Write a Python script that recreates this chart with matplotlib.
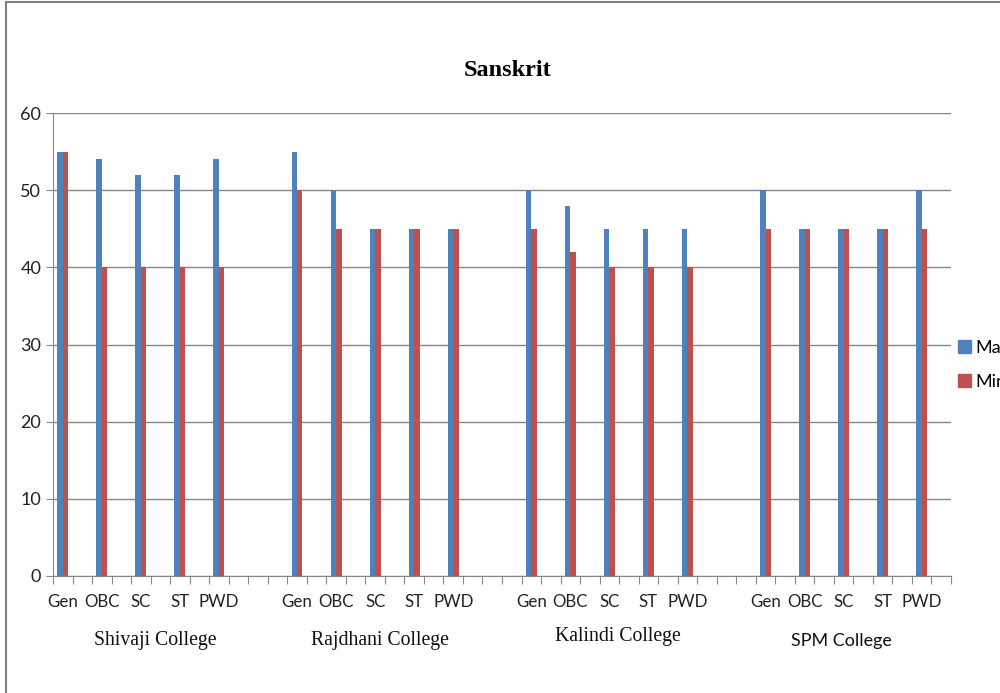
import numpy as np
import matplotlib
matplotlib.use("Agg")
import matplotlib.pyplot as plt
from matplotlib.patches import Patch
from matplotlib.lines import Line2D


# ==========================================================
# Data

colleges = ["Shivaji College", "Rajdhani College", "Kalindi College", "SPM College"]
categories = ["Gen", "OBC", "SC", "ST", "PWD"]

max_marks = [
    [55, 54, 52, 52, 54],
    [55, 50, 45, 45, 45],
    [50, 48, 45, 45, 45],
    [50, 45, 45, 45, 50],
]
min_marks = [
    [55, 40, 40, 40, 40],
    [50, 45, 45, 45, 45],
    [45, 42, 40, 40, 40],
    [45, 45, 45, 45, 45],
]

series_names = ["Max", "Min"]
blue = "#4F81BD"
red = "#C0504D"
grid_gray = "#868686"

# ==========================================================
# Layout: each category sits in its own slot, with an empty slot
# after it and two more blank slots between colleges (Excel style)

n_slots = 46
centers = []
labels = []
for i in range(len(colleges)):
    for j in range(len(categories)):
        centers.append(12 * i + 2 * j + 0.5)
        labels.append(categories[j])
centers = np.array(centers)
max_flat = np.array(max_marks).ravel()
min_flat = np.array(min_marks).ravel()

fig = plt.figure(figsize=(10, 6.93), dpi=100)
ax = fig.add_axes([0.053, 1 - 576 / 693, 0.898, (576 - 113) / 693])

bw = 0.28
ax.bar(centers - bw / 2, max_flat, width=bw, color=blue, zorder=3)
ax.bar(centers + bw / 2, min_flat, width=bw, color=red, zorder=3)

ax.set_xlim(0, n_slots)
ax.set_ylim(0, 60)
ax.set_yticks(range(0, 61, 10))
ax.yaxis.grid(True, color=grid_gray, linewidth=1, zorder=0)

for side in ["top", "right"]:
    ax.spines[side].set_visible(False)
for side in ["left", "bottom"]:
    ax.spines[side].set_color(grid_gray)

# slot boundary ticks (no labels), category labels on minor ticks
ax.set_xticks(np.arange(0, n_slots + 1))
ax.set_xticklabels([])
ax.tick_params(axis="x", which="major", length=6, color=grid_gray)
ax.set_xticks(centers, minor=True)
ax.set_xticklabels(labels, minor=True, fontsize=12.2, family="Lato", color="#222222")
ax.tick_params(axis="x", which="minor", length=0, pad=13)
ax.tick_params(axis="y", length=5, color=grid_gray, labelsize=13, labelcolor="#222222")
for t in ax.get_yticklabels():
    t.set_family("Lato")

# college names under each group
college_pos = [(155, 640, "Liberation Serif"), (380, 640, "Liberation Serif"),
               (618, 636, "Liberation Serif"), (841, 641, "Lato")]
for name, (px, py, fam) in zip(colleges, college_pos):
    fig.text(px / 1000, 1 - py / 693, name, ha="center", va="center",
             fontsize=14.2 if fam != "Lato" else 13, family=fam, color="#111111")

fig.text(508 / 1000, 1 - 70 / 693, "Sanskrit", ha="center", va="center",
         fontsize=17.5, fontweight="bold", family="Liberation Serif")

# legend (cut off by the right edge, as in the original)
handles = [Patch(color=blue), Patch(color=red)]
fig.legend(handles, series_names, loc="center left", bbox_to_anchor=(0.951, 1 - 365 / 693),
           frameon=False, handlelength=0.7, handleheight=0.7, handletextpad=0.25,
           labelspacing=1.0, prop={"family": "Lato", "size": 13}, borderaxespad=0)

# chart border
fig.add_artist(Line2D([0.006, 0.006], [0, 0.997], transform=fig.transFigure,
                      color="#808080", linewidth=1.5))
fig.add_artist(Line2D([0.006, 1], [0.997, 0.997], transform=fig.transFigure,
                      color="#808080", linewidth=1.5))

fig.savefig("out.png", dpi=100)
